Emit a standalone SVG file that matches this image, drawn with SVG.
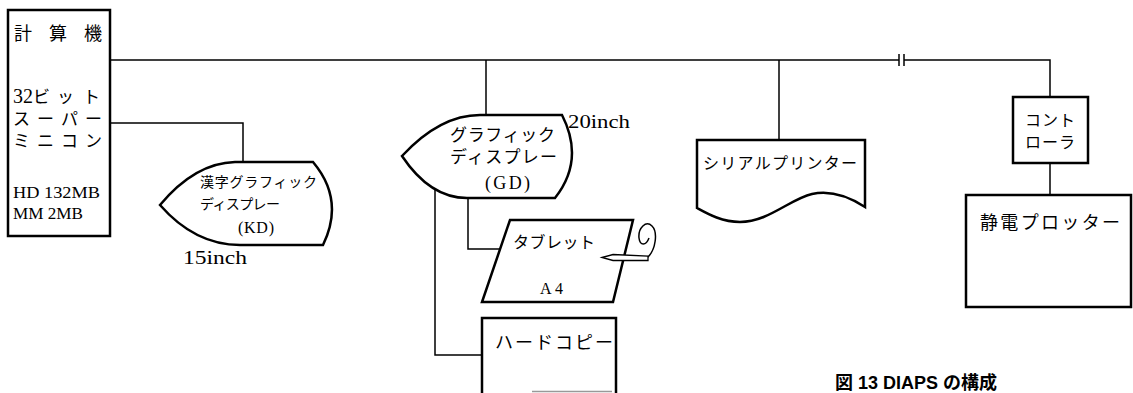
<svg xmlns="http://www.w3.org/2000/svg" width="1133" height="393" viewBox="0 0 1133 393">
  <style>
    .shape { fill: #fff; stroke: #000; stroke-width: 2.5; stroke-linejoin: miter; }
    .wire { fill: none; stroke: #000; stroke-width: 1.5; }
    .t { font-family: "Liberation Serif", "Noto Sans CJK JP", serif; fill: #000; }
    .cap { font-family: "Liberation Sans", "Noto Sans CJK JP", sans-serif; font-weight: bold; fill: #000; }
  </style>
  <rect width="1133" height="393" fill="#fff"/>

  <!-- connectors -->
  <g id="connectors">
    <path class="wire" d="M110,60 H899 M904,60 H1050 V97"/>
    <path class="wire" d="M899,54 V66 M904,54 V66"/>
    <path class="wire" d="M110,123 H243 V162"/>
    <path class="wire" d="M486,60 V115"/>
    <path class="wire" d="M779,60 V140"/>
    <path class="wire" d="M1050,163 V195"/>
    <path class="wire" d="M468,198 V249 H500"/>
    <path class="wire" d="M435,190 V355 H482"/>
  </g>

  <!-- host computer -->
  <g id="computer">
    <rect class="shape" x="8" y="10" width="102" height="226"/>
    <text class="t" x="14" y="40" font-size="18" textLength="88" lengthAdjust="spacing">計 算 機</text>
    <text class="t" y="103" font-size="17"><tspan x="13" font-size="20">32</tspan><tspan x="33">ビ</tspan><tspan x="57">ッ</tspan><tspan x="83">ト</tspan></text>
    <text class="t" x="13" y="125" font-size="17" textLength="89" lengthAdjust="spacing">スーパー</text>
    <text class="t" x="13" y="147" font-size="17" textLength="89" lengthAdjust="spacing">ミニコン</text>
    <text class="t" x="13" y="198" font-size="17" textLength="87" lengthAdjust="spacingAndGlyphs">HD 132MB</text>
    <text class="t" x="13" y="219" font-size="17" textLength="70" lengthAdjust="spacingAndGlyphs">MM 2MB</text>
  </g>

  <!-- kanji graphic display -->
  <g id="kd">
    <path class="shape" d="M160,205 Q195,163 235,162 H313 Q345,200 323,245 H240 Q195,245 160,205 Z"/>
    <text class="t" x="200" y="187" font-size="14" textLength="117" lengthAdjust="spacing">漢字グラフィック</text>
    <text class="t" x="200" y="209" font-size="14" textLength="80" lengthAdjust="spacing">ディスプレー</text>
    <text class="t" x="238" y="233" font-size="16" textLength="36" lengthAdjust="spacing">(KD)</text>
    <text class="t" x="183" y="264" font-size="18" textLength="64" lengthAdjust="spacingAndGlyphs">15inch</text>
  </g>

  <!-- graphic display -->
  <g id="gd">
    <path class="shape" d="M402,156 Q440,115 480,115 H562 Q585,160 555,198 H467 Q430,198 402,156 Z"/>
    <text class="t" x="450" y="141" font-size="17" textLength="105" lengthAdjust="spacing">グラフィック</text>
    <text class="t" x="450" y="163" font-size="17" textLength="107" lengthAdjust="spacing">ディスプレー</text>
    <text class="t" x="485" y="189" font-size="18" textLength="45" lengthAdjust="spacing">(GD)</text>
    <text class="t" x="568" y="128" font-size="18" textLength="62" lengthAdjust="spacingAndGlyphs">20inch</text>
  </g>

  <!-- tablet with stylus -->
  <g id="tablet">
    <polygon class="shape" points="510,220 633,220 613,302 482,302"/>
    <text class="t" x="513" y="248" font-size="16" textLength="82" lengthAdjust="spacing">タブレット</text>
    <text class="t" x="540" y="294" font-size="16" textLength="23" lengthAdjust="spacing">A4</text>
    <path d="M647,258 C656,250 658,232 652,226 C646,220 638,228 639,238 C640,246 646,246 649,238" fill="none" stroke="#000" stroke-width="1.5"/>
    <path d="M602,257.5 L613,254.5 L648,256 L648,260.5 L613,260.5 Z" fill="#fff" stroke="#000" stroke-width="1.3"/>
  </g>

  <!-- hard copy unit -->
  <g id="hardcopy">
    <path class="shape" d="M482,400 V318 H616 V400"/>
    <line x1="532" y1="391.5" x2="612" y2="391.5" stroke="#999" stroke-width="1.5"/>
    <text class="t" x="495" y="349" font-size="18" textLength="118" lengthAdjust="spacing">ハードコピー</text>
  </g>

  <!-- serial printer -->
  <g id="printer">
    <path class="shape" d="M697,140 H865 V207 C848,196 830,190 812,194 C790,199 768,222 740,222 C722,222 708,214 697,208 Z"/>
    <text class="t" x="703" y="169" font-size="16" textLength="154" lengthAdjust="spacing">シリアルプリンター</text>
  </g>

  <!-- plotter controller -->
  <g id="controller">
    <rect class="shape" x="1013" y="97" width="75" height="66"/>
    <text class="t" x="1025" y="126" font-size="16" textLength="50" lengthAdjust="spacing">コント</text>
    <text class="t" x="1025" y="148" font-size="16" textLength="50" lengthAdjust="spacing">ローラ</text>
  </g>

  <!-- electrostatic plotter -->
  <g id="plotter">
    <rect class="shape" x="966" y="195" width="165" height="112"/>
    <text class="t" x="980" y="229" font-size="18" textLength="140" lengthAdjust="spacing">静電プロッター</text>
  </g>

  <text class="cap" x="835" y="389" font-size="18">図 13  DIAPS の構成</text>
</svg>
